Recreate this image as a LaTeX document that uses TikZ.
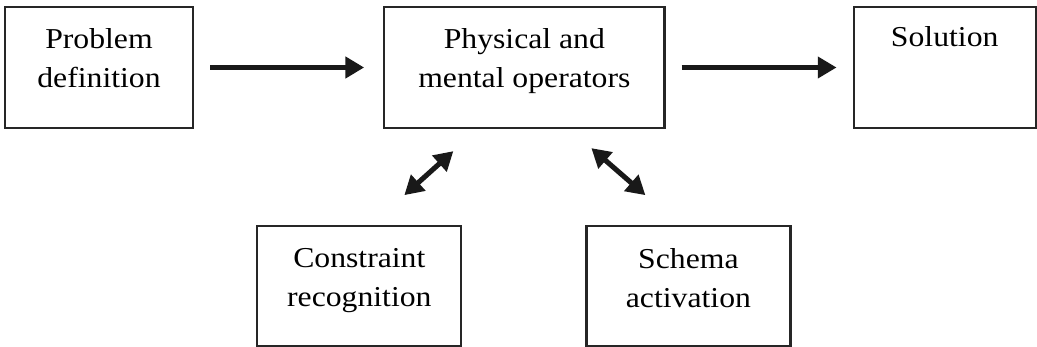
\documentclass[tikz,border=0pt]{standalone}
\usepackage{fontspec}
\setmainfont[FakeStretch=1.1]{Liberation Serif}
\usepackage{tikz}
\usetikzlibrary{positioning, arrows.meta}

\begin{document}
\begin{tikzpicture}[
    x=0.025cm, y=-0.025cm,
    box/.style={
        rectangle,
        draw=black!85,
        line width=1.6pt,
        minimum height=3.025cm,
        inner sep=0pt
    },
    lowbox/.style={box, minimum width=5.1cm, minimum height=3cm},
    txt/.style={
        align=center,
        inner sep=0pt,
        font=\fontsize{20.5pt}{28pt}\selectfont
    },
    arr/.style={-{Triangle[length=0.47cm, width=0.52cm]}, line width=4.2pt, black!90},
    dbl/.style={{Triangle[length=0.47cm, width=0.52cm]}-{Triangle[length=0.47cm, width=0.52cm]}, line width=3.6pt, black!90}
]
\useasboundingbox (0,0) rectangle (1037,347);

% top row
\node[box, minimum width=4.7cm] (prob) at (99,67.5) {};
\node[box, minimum width=7cm, right=4.725cm of prob] (oper) {};
\node[box, minimum width=4.55cm, right=4.675cm of oper] (sol) {};

% bottom row
\node[lowbox, below=2.4cm of oper.south, xshift=-4.125cm] (cons) {};
\node[lowbox, below=2.4cm of oper.south, xshift=4.1cm] (schema) {};

% texts
\node[txt, below=0.55cm of prob.north]   (probtxt)   {Problem\\definition};
\node[txt, below=0.55cm of oper.north]   (opertxt)   {Physical and\\mental operators};
\node[txt, below=0.52cm of sol.north]    (soltxt)    {Solution};
\node[txt, below=0.57cm of cons.north]   (constxt)   {Constraint\\recognition};
\node[txt, below=0.57cm of schema.north] (schematxt) {Schema\\activation};

\draw[arr, shorten <=0.4cm, shorten >=0.475cm] (prob) -- (oper);
\draw[arr, shorten <=0.4cm, shorten >=0.4cm]   (oper) -- (sol);

\draw[dbl] ([xshift=1.125cm, yshift=0.75cm]cons.north) -- ([xshift=-1.775cm, yshift=-0.55cm]oper.south);
\draw[dbl] ([xshift=1.675cm, yshift=-0.475cm]oper.south) -- ([xshift=-1.075cm, yshift=0.75cm]schema.north);
\end{tikzpicture}
\end{document}
